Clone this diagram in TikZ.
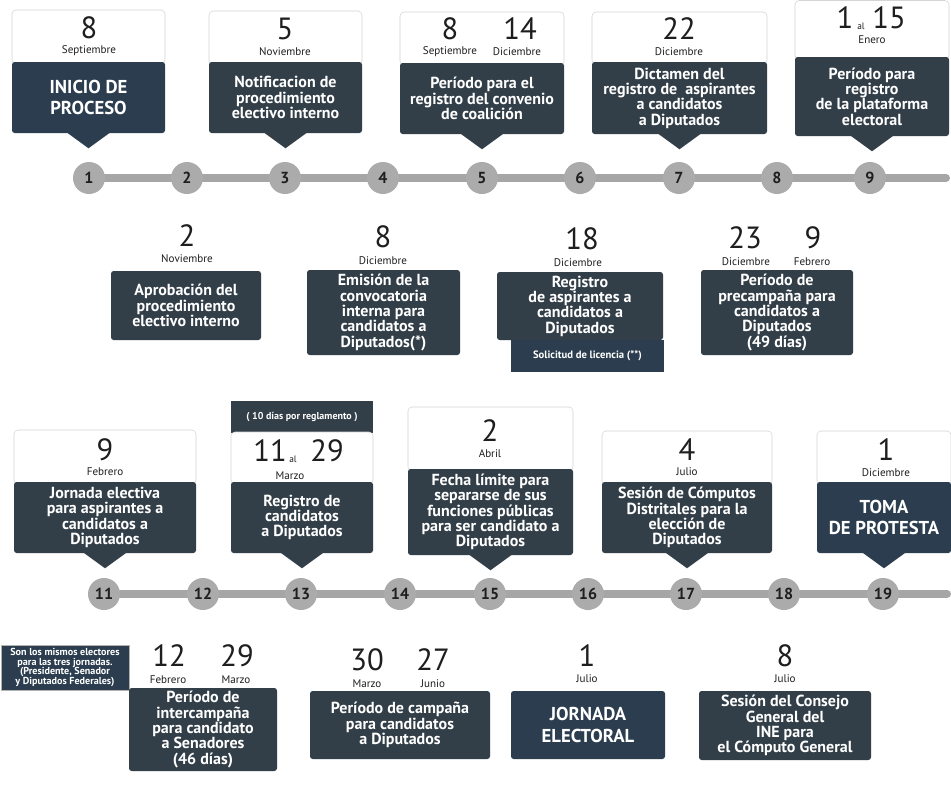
\documentclass[tikz,border=0pt]{standalone}
\usepackage{fontspec}
\setmainfont{PT Sans}
\usetikzlibrary{backgrounds}
\definecolor{slate}{HTML}{333F48}
\definecolor{deepslate}{HTML}{2B3D4F}
\definecolor{railgrey}{HTML}{A6A6A6}
\definecolor{dotgrey}{HTML}{ABABAB}
\definecolor{edgegrey}{HTML}{D4D4D4}
\definecolor{ink}{HTML}{1E1E1E}
\tikzset{
  card/.style 2 args={fill=slate,rounded corners=2pt,text=white,align=center,inner sep=0pt,
    font=\bfseries\fontsize{12}{11.5}\selectfont,minimum width=#1*0.75pt,minimum height=#2*0.75pt},
  head/.style 2 args={draw=edgegrey,fill=white,rounded corners=3pt,inner sep=0pt,
    minimum width=#1*0.75pt,minimum height=#2*0.75pt},
  day/.style={font=\fontsize{23}{23}\selectfont,text=ink,inner sep=0pt},
  month/.style={font=\fontsize{8.3}{8.3}\selectfont,text=ink,inner sep=0pt},
  al/.style={font=\fontsize{7}{7}\selectfont,text=ink,inner sep=0pt},
  big/.style={font=\bfseries\fontsize{14}{16}\selectfont},
  tiny/.style={font=\bfseries\fontsize{8}{8}\selectfont},
  dot/.style={circle,fill=dotgrey,text=ink,font=\bfseries\fontsize{12}{12}\selectfont,
    minimum size=24pt,inner sep=0pt},
  rail/.style={line width=6pt,railgrey,line cap=round},
}

\begin{document}
\begin{tikzpicture}[x=0.75pt,y=-0.75pt]
  \useasboundingbox (0,0) rectangle (951,790);
  % timelines
  \foreach \i/\x in {1/89,2/187,3/285,4/383,5/482,6/580,7/679,8/777,9/870}
    \node[dot] (t\i) at (\x,178) {\i};
  \foreach \i/\x in {11/104,12/203,13/301,14/400,15/490,16/588,17/686,18/784,19/883}
    \node[dot] (t\i) at (\x,594) {\i};
  \coordinate (t9end) at (946,178);
  \coordinate (t19end) at (947,594);
  \begin{scope}[on background layer]
    \fill[white] (0,0) rectangle (951,790);
    \draw[rail] (t1.center) -- (t9end);
    \draw[rail] (t11.center) -- (t19end);
  \end{scope}

  % row 1: above the first line
  \node[head={153}{54}] (h1) at (88.5,37) {};
  \node[card={153}{71},fill=deepslate,big] (c1) at (88.5,97.5) {INICIO DE\\PROCESO};
  \node[day] (c1d) at (89,28) {8};
  \node[month] (c1m) at (89,51) {Septiembre};

  \node[head={153}{54}] (h2) at (285.5,38) {};
  \node[card={153}{71}] (c2) at (285.5,97.5) {Notificacion de\\procedimiento\\electivo interno};
  \node[day] (c2d) at (285,29) {5};
  \node[month] (c2m) at (285,52) {Noviembre};

  \node[head={164}{53}] (h3) at (482,38.5) {};
  \node[card={164}{71}] (c3) at (482,98.5) {Período para el\\registro del convenio\\de coalición};
  \node[day] (c3d) at (450,29) {8};
  \node[day] (c3e) at (520,29) {14};
  \node[month] (c3m) at (450,52) {Septiembre};
  \node[month] (c3n) at (517,52) {Diciembre};

  \node[head={175}{52}] (h4) at (679.5,38) {};
  \node[card={175}{72}] (c4) at (679.5,98) {Dictamen del\\registro de\ \ aspirantes\\a candidatos\\a Diputados};
  \node[day] (c4d) at (679,29) {22};
  \node[month] (c4m) at (679,52) {Diciembre};

  \node[head={154}{59}] (h5) at (872,30) {};
  \node[card={154}{79}] (c5) at (872,96.5) {Período para\\registro\\de la plataforma\\electoral};
  \node[day] (c5d) at (845,18) {1};
  \node[al] (c5a) at (861,26) {al};
  \node[day] (c5e) at (889,18) {15};
  \node[month] (c5m) at (872,40) {Enero};

  % row 2: below the first line
  \node[day] (d1d) at (187,236) {2};
  \node[month] (d1m) at (187,259) {Noviembre};
  \node[card={150}{69}] (d1) at (186,305.5) {Aprobación del\\procedimiento\\electivo interno};

  \node[day] (d2d) at (383,237) {8};
  \node[month] (d2m) at (383,261) {Diciembre};
  \node[card={153}{85}] (d2) at (383.5,312.5) {Emisión de la\\convocatoria\\interna para\\candidatos a\\Diputados(*)};

  \node[day] (d3d) at (582,239) {18};
  \node[month] (d3m) at (578,263) {Diciembre};
  \node[card={153}{32},fill=deepslate,rounded corners=0pt,tiny] (d3s) at (587.5,356) {Solicitud de licencia (**)};
  \node[card={166}{68}] (d3) at (580,306) {Registro\\de aspirantes a\\candidatos a\\Diputados};

  \node[day] (d4d) at (745,238) {23};
  \node[day] (d4e) at (813,238) {9};
  \node[month] (d4m) at (746,262) {Diciembre};
  \node[month] (d4n) at (812,262) {Febrero};
  \node[card={152}{85}] (d4) at (777,312.5) {Período de\\precampaña para\\candidatos a\\Diputados\\(49 días)};

  % row 3: above the second line
  \node[head={182}{54}] (h11) at (105,457) {};
  \node[card={182}{71}] (e1) at (105,517.5) {Jornada electiva\\para aspirantes a\\candidatos a\\Diputados};
  \node[day] (e1d) at (105,450) {9};
  \node[month] (e1m) at (105,472) {Febrero};

  \node[card={142}{32},rounded corners=0pt,font=\bfseries\fontsize{7.5}{8}\selectfont] (e2t) at (302,417) {( 10 días por reglamento )};
  \node[head={142}{52}] (h13) at (302,458) {};
  \node[card={142}{71}] (e2) at (302,517.5) {Registro de\\candidatos\\a Diputados};
  \node[day] (e2d) at (270,451) {11};
  \node[al] (e2a) at (293,459) {al};
  \node[day] (e2e) at (327,451) {29};
  \node[month] (e2m) at (290,476) {Marzo};

  \node[head={165}{64}] (h15) at (490.5,439) {};
  \node[card={165}{86}] (e3) at (490.5,512) {Fecha límite para\\separarse de sus\\funciones públicas\\para ser candidato a\\Diputados};
  \node[day] (e3d) at (490,431) {2};
  \node[month] (e3m) at (490,454) {Abril};

  \node[head={170}{54}] (h17) at (687,458) {};
  \node[card={170}{71}] (e4) at (687,517.5) {Sesión de Cómputos\\Distritales para la\\elección de\\Diputados};
  \node[day] (e4d) at (687,450) {4};
  \node[month] (e4m) at (687,472) {Julio};

  \node[head={134}{54}] (h19) at (884,458) {};
  \node[card={134}{71},fill=deepslate,big] (e5) at (884,517.5) {TOMA\\DE PROTESTA};
  \node[day] (e5d) at (886,450) {1};
  \node[month] (e5m) at (886,473) {Diciembre};

  % pointers down to the lines
  \foreach \c/\col in {c1/deepslate,c2/slate,c3/slate,c4/slate,c5/slate,e1/slate,e2/slate,e3/slate,e4/slate,e5/deepslate}
    \fill[\col] (\c.south) ++(-22,-1) -- ++(44,0) -- ++(-22,16) -- cycle;

  % row 4: below the second line
  \node[card={128}{45},fill=deepslate,draw=black!30,rounded corners=0pt,
    font=\bfseries\fontsize{7.6}{7.2}\selectfont] (note) at (65,667.5)
    {Son los mismos electores\\para las tres jornadas.\\(Presidente, Senador\\y Diputados Federales)};

  \node[day] (f1d) at (169,656) {12};
  \node[day] (f1e) at (237,656) {29};
  \node[month] (f1m) at (168,680) {Febrero};
  \node[month] (f1n) at (236,680) {Marzo};
  \node[card={148}{83}] (f1) at (203,729.5) {Período de\\intercampaña\\para candidato\\a Senadores\\(46 días)};

  \node[day] (f2d) at (367,660) {30};
  \node[day] (f2e) at (433,660) {27};
  \node[month] (f2m) at (367,684) {Marzo};
  \node[month] (f2n) at (433,684) {Junio};
  \node[card={180}{68}] (f2) at (400,725) {Período de campaña\\para candidatos\\a Diputados};

  \node[day] (f3d) at (587,656) {1};
  \node[month] (f3m) at (587,679) {Julio};
  \node[card={154}{68},fill=deepslate,big] (f3) at (588,725) {JORNADA\\ELECTORAL};

  \node[day] (f4d) at (785,656) {8};
  \node[month] (f4m) at (785,679) {Julio};
  \node[card={172}{69}] (f4) at (785,725.5) {Sesión del Consejo\\General del\\INE para\\el Cómputo General};
\end{tikzpicture}
\end{document}
